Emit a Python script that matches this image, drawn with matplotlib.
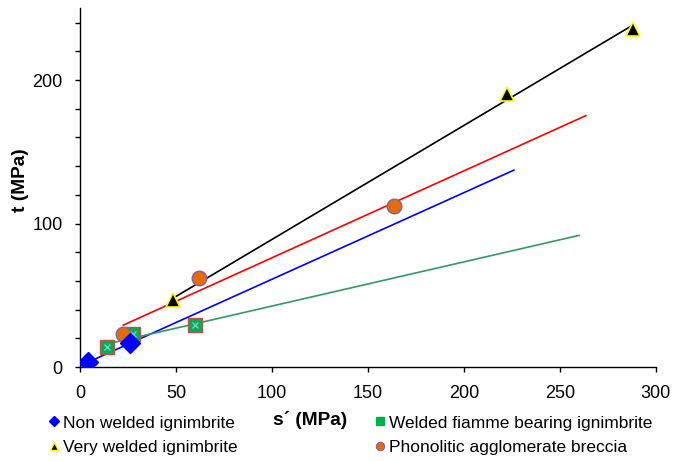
import numpy as np
import matplotlib.pyplot as plt
from matplotlib.lines import Line2D

plt.rcParams['font.family'] = ['Liberation Sans', 'DejaVu Sans']

# --- Data (s' and t in MPa) ---
nw_s = [4.3, 26.0]            # Non welded ignimbrite
nw_t = [3.4, 16.5]
wf_s = [14.2, 27.8, 59.9]     # Welded fiamme bearing ignimbrite
wf_t = [14.1, 23.0, 29.3]
vw_s = [48.3, 222.6, 288.2]   # Very welded ignimbrite
vw_t = [46.7, 190.5, 235.5]
ph_s = [22.6, 62.1, 163.5]    # Phonolitic agglomerate breccia
ph_t = [23.0, 61.8, 112.2]

# trendline forward forecast for each series (s' units)
forward = {'nw': 200, 'wf': 200, 'vw': 0, 'ph': 100}

x_ticks = [0, 50, 100, 150, 200, 250, 300]
y_ticks = list(range(0, 241, 20))
y_labels = ['0', '', '', '', '', '100', '', '', '', '', '200', '', '']

fig = plt.figure(figsize=(6.75, 4.61), dpi=100)
ax = fig.add_axes([0.1185, 0.2039, 0.8533, 0.778])


def trend(xs, ys, fwd, color):
    k, b = np.polyfit(xs, ys, 1)
    xx = np.array([min(xs), max(xs) + fwd])
    ax.plot(xx, k * xx + b, color=color, lw=1.2, zorder=2)


trend(nw_s, nw_t, forward['nw'], '#0000FF')
trend(wf_s, wf_t, forward['wf'], '#339966')
trend(vw_s, vw_t, forward['vw'], 'black')
trend(ph_s, ph_t, forward['ph'], '#FF0000')

# markers
ax.plot(wf_s, wf_t, 's', ms=10, mfc='#00B050', mec='#C0504D', mew=1, zorder=3)
ax.plot(wf_s, wf_t, 'x', ms=5, color='#7FC4DA', mew=1, zorder=4)
ax.plot(ph_s, ph_t, 'o', ms=10.5, mfc='#E46C0A', mec='#8064A2', mew=1, zorder=5)
ax.plot(nw_s, nw_t, 'D', ms=10, mfc='#0000FF', mec='#0000FF', zorder=5)
ax.plot(vw_s, vw_t, '^', ms=10.5, mfc='black', mec='#FFFF00', mew=1.2, zorder=5)

ax.set_xlim(0, 300)
ax.set_ylim(0, 250)
ax.set_xticks(x_ticks)
ax.set_yticks(y_ticks)
ax.set_yticklabels(y_labels)
ax.tick_params(direction='out', length=3.6, width=1, labelsize=13)
ax.tick_params(axis='x', pad=9)
ax.tick_params(axis='y', pad=9)
for sp in ['top', 'right']:
    ax.spines[sp].set_visible(False)
ax.spines['left'].set_linewidth(1)
ax.spines['bottom'].set_linewidth(1)

ax.set_ylabel('t (MPa)', fontsize=13.8, fontweight='bold')
ax.yaxis.set_label_coords(-0.089, 0.52)
fig.text(310 / 675, 1 - 420 / 461, 's\u00b4 (MPa)', fontsize=13.8, fontweight='bold',
         ha='center', va='center')

# legend
handles = [
    Line2D([], [], ls='none', marker='D', ms=5, mfc='#0000FF', mec='#0000FF'),
    Line2D([], [], ls='none', marker='^', ms=6, mfc='black', mec='#FFFF00', mew=1),
    Line2D([], [], ls='none', marker='s', ms=6, mfc='#00B050', mec='#00B050'),
    Line2D([], [], ls='none', marker='o', ms=6, mfc='#E46C0A', mec='#8064A2', mew=0.8),
]
labels = ['Non welded ignimbrite', 'Very welded ignimbrite',
          'Welded fiamme bearing ignimbrite', 'Phonolitic agglomerate breccia']
fig.legend(handles, labels, ncol=2, loc='upper left', bbox_to_anchor=(0.0735, 0.099),
           frameon=False, fontsize=12.5, handlelength=0.5, handletextpad=0.25,
           columnspacing=8.0, labelspacing=0.55, borderpad=0, borderaxespad=0)

fig.savefig('out.png', dpi=100)
